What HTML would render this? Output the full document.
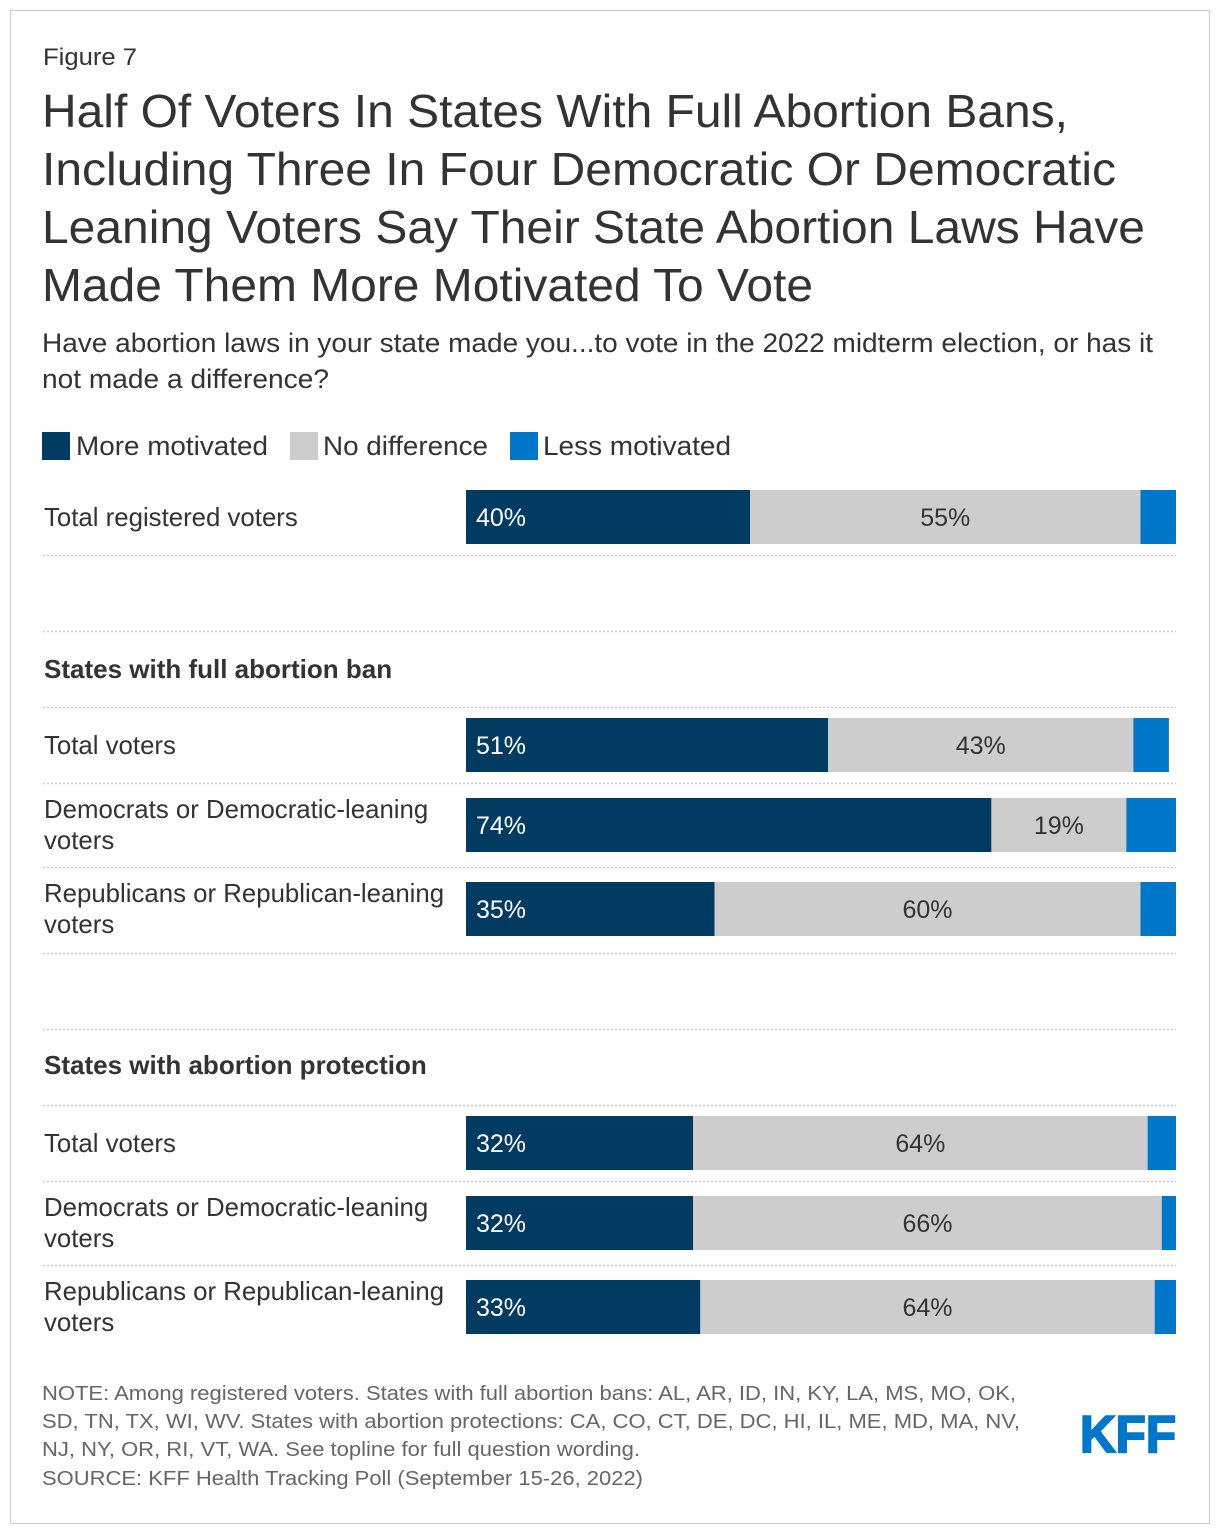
<!DOCTYPE html>
<html><head><meta charset="utf-8"><style>
body{margin:0;background:#fff;font-family:"Liberation Sans",Arial,sans-serif;}
#frame{position:absolute;left:10px;top:10px;width:1198px;height:1512px;border:1px solid #ccc;}
</style></head><body>
<div id="frame"></div>
<svg id="chart" width="1220" height="1534" style="position:absolute;left:0;top:0">
<text x="43" y="65" font-size="24" fill="#333" textLength="94" lengthAdjust="spacingAndGlyphs">Figure 7</text>
<g font-size="46" fill="#333">
<text x="42" y="127" textLength="1026" lengthAdjust="spacingAndGlyphs">Half Of Voters In States With Full Abortion Bans,</text>
<text x="42" y="185" textLength="1074" lengthAdjust="spacingAndGlyphs">Including Three In Four Democratic Or Democratic</text>
<text x="42" y="243" textLength="1103" lengthAdjust="spacingAndGlyphs">Leaning Voters Say Their State Abortion Laws Have</text>
<text x="42" y="301" textLength="771" lengthAdjust="spacingAndGlyphs">Made Them More Motivated To Vote</text>
</g>
<g font-size="26.5" fill="#333">
<text x="42" y="352" textLength="1111" lengthAdjust="spacingAndGlyphs">Have abortion laws in your state made you...to vote in the 2022 midterm election, or has it</text>
<text x="42" y="388" textLength="287" lengthAdjust="spacingAndGlyphs">not made a difference?</text>
</g>
<g font-size="26.5" fill="#333">
<g><rect x="42" y="432" width="28" height="28" fill="#023b62"/><text x="76" y="455" textLength="192" lengthAdjust="spacingAndGlyphs">More motivated</text></g>
<g><rect x="290" y="432" width="28" height="28" fill="#cdcdcd"/><text x="323" y="455" textLength="165" lengthAdjust="spacingAndGlyphs">No difference</text></g>
<g><rect x="510" y="432" width="28" height="28" fill="#0077c8"/><text x="543" y="455" textLength="188" lengthAdjust="spacingAndGlyphs">Less motivated</text></g>
</g>
<g id="lines"></g>
<g id="labels"></g>
<g id="bars"></g>
<g font-size="20.5" fill="#666">
<text x="42" y="1400" textLength="974" lengthAdjust="spacingAndGlyphs">NOTE: Among registered voters. States with full abortion bans: AL, AR, ID, IN, KY, LA, MS, MO, OK,</text>
<text x="42" y="1428" textLength="978" lengthAdjust="spacingAndGlyphs">SD, TN, TX, WI, WV. States with abortion protections: CA, CO, CT, DE, DC, HI, IL, ME, MD, MA, NV,</text>
<text x="42" y="1456" textLength="598" lengthAdjust="spacingAndGlyphs">NJ, NY, OR, RI, VT, WA. See topline for full question wording.</text>
<text x="42" y="1485" textLength="601" lengthAdjust="spacingAndGlyphs">SOURCE: KFF Health Tracking Poll (September 15-26, 2022)</text>
</g>
<text x="1080" y="1452" font-size="52" font-weight="bold" fill="#0077c8" stroke="#0077c8" stroke-width="2" textLength="96" lengthAdjust="spacingAndGlyphs">KFF</text>
</svg>
<script>
const categories=["Total registered voters","Total voters","Democrats or Democratic-leaning|voters","Republicans or Republican-leaning|voters","Total voters","Democrats or Democratic-leaning|voters","Republicans or Republican-leaning|voters"];
const moreMotivated=[40,51,74,35,32,32,33];
const noDifference=[55,43,19,60,64,66,64];
const lessMotivated=[5,5,7,5,4,2,3];
const barTops=[490,718,798,882,1116,1196,1280];
const sectionHeaders=[["States with full abortion ban",678],["States with abortion protection",1074]];
const separators=[555,631,707,783,867,953,1029,1105,1181,1265];
const NS="http://www.w3.org/2000/svg";
const x0=466,scale=7.1,bh=54;
function xs(v){return v*scale;}
function mk(t,a,p){const e=document.createElementNS(NS,t);for(const k in a)e.setAttribute(k,a[k]);p.appendChild(e);return e;}
const L=document.getElementById('lines'),T=document.getElementById('labels'),B=document.getElementById('bars');
separators.forEach(y=>{const l=mk('line',{x1:43,x2:1176,y1:y+.5,y2:y+.5,stroke:'#ccc','stroke-width':1.5,'stroke-dasharray':'2 2'},L);

});
sectionHeaders.forEach(s=>{const t=mk('text',{x:44,y:s[1],'font-size':26,'font-weight':'bold',fill:'#333'},T);t.textContent=s[0];

});
categories.forEach((c,i)=>{const y=barTops[i];const parts=c.split('|');
const t=mk('text',{x:44,'font-size':25.8,fill:'#333'},T);


if(parts.length==1){t.setAttribute('y',y+36);t.textContent=parts[0];}
else{parts.forEach((p,j)=>{const ts=mk('tspan',{x:44,y:y+20+j*31},t);ts.textContent=p;});}
let x=x0;
const segs=[[moreMotivated[i],'#023b62','#fff','more'],[noDifference[i],'#cdcdcd','#333','nodiff'],[lessMotivated[i],'#0077c8','#fff','less']];
segs.forEach((s,k)=>{const w=xs(s[0]);const r=mk('rect',{x:x,y:y,width:w,height:bh,fill:s[1]},B);


if(k==0){const v=mk('text',{x:x+10,y:y+36,'font-size':25,fill:s[2]},B);v.textContent=s[0]+'%';

}
if(k==1){const v=mk('text',{x:x+w/2,y:y+36,'font-size':25,fill:s[2],'text-anchor':'middle'},B);v.textContent=s[0]+'%';

}
x+=w;});
});
</script>
</body></html>
